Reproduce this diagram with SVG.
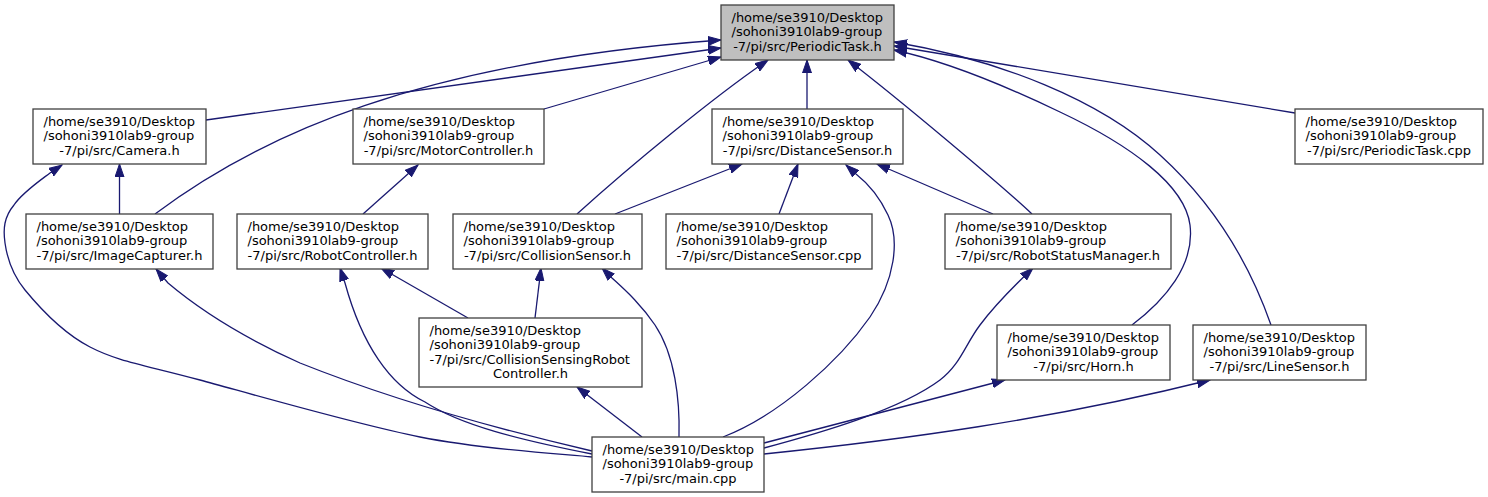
<svg xmlns="http://www.w3.org/2000/svg" width="1488" height="497" viewBox="0 0 1488 497">
<style>
.n rect{fill:#ffffff;stroke:#404040;stroke-width:1.3}
.root rect{fill:#bfbfbf}
text{font-family:"DejaVu Sans","Liberation Sans",sans-serif;font-size:13px;fill:#000000}
.c{text-anchor:middle}
#edges path{fill:none;stroke:#191970;stroke-width:1.3;marker-end:url(#ah)}
</style>
<defs>
<marker id="ah" markerUnits="userSpaceOnUse" viewBox="0 0 14 10" refX="13" refY="5" markerWidth="14" markerHeight="10" orient="auto">
<path d="M0,0.5 L13,5 L0,9.5 z" fill="#191970" stroke="#191970" stroke-width="1"/>
</marker>
</defs>
<rect width="1488" height="497" fill="#ffffff"/>
<g id="edges">
<path d="M206,120 L721,48"/>
<path d="M155,214 C260,135 420,62 721,40"/>
<path d="M544,109 L721,57"/>
<path d="M577,214 C630,166 715,96 768,60"/>
<path d="M807,109 L807,60"/>
<path d="M1032,214 C1000,184 900,100 848,60"/>
<path d="M1132,325 C1165,300 1195,265 1190,225 C1185,185 1130,145 1060,112 C1010,88 950,62 894,50"/>
<path d="M1271,325 C1250,265 1215,205 1160,155 C1100,100 1000,60 894,42"/>
<path d="M1295,113 L894,46"/>
<path d="M119.5,214 L119.5,164"/>
<path d="M592,457 C563,454 485,450 420,437 C355,424 255,395 200,380 C145,365 119,362 90,347 C61,332 39,307 25,290 C11,273 7,257 5,243 C3,229 4,217 14,205 C22,193 38,182 50,173 L62,165"/>
<path d="M363,214 L418,165"/>
<path d="M615,214 L742,164"/>
<path d="M779,214 L798,164"/>
<path d="M723,437 C780,415 840,360 870,317 C895,280 900,240 888,215 C880,198 870,185 856,174 L846,165"/>
<path d="M993,214 L877,164"/>
<path d="M535,318 L541,268"/>
<path d="M679,437 C680,400 675,355 655,325 C640,303 625,290 612,278 L602,268"/>
<path d="M592,451 C480,425 380,395 300,363 C240,336 200,310 168,283 L156,269"/>
<path d="M592,454 C520,440 460,425 425,402 C390,385 362,345 345,283 L340,268"/>
<path d="M468,318 L381,268"/>
<path d="M642,437 L577,387"/>
<path d="M764,448 C820,433 900,410 940,380 C960,365 965,345 980,325 C995,305 1015,285 1033,268"/>
<path d="M764,443 L1005,380"/>
<path d="M764,454 C900,440 1050,420 1210,380"/>
</g>
<g id="node-periodictask-h" class="n root">
<rect x="721" y="5" width="173" height="55"/>
<text x="731.5" y="21.5">/home/se3910/Desktop</text>
<text x="731.5" y="36">/sohoni3910lab9-group</text>
<text class="c" x="807.5" y="50.5">-7/pi/src/PeriodicTask.h</text>
</g>
<g id="node-camera-h" class="n">
<rect x="33" y="109" width="173" height="55"/>
<text x="43.5" y="125.5">/home/se3910/Desktop</text>
<text x="43.5" y="140">/sohoni3910lab9-group</text>
<text class="c" x="119.5" y="154.5">-7/pi/src/Camera.h</text>
</g>
<g id="node-motorcontroller-h" class="n">
<rect x="353" y="109" width="191" height="55"/>
<text x="363.5" y="125.5">/home/se3910/Desktop</text>
<text x="363.5" y="140">/sohoni3910lab9-group</text>
<text class="c" x="448.5" y="154.5">-7/pi/src/MotorController.h</text>
</g>
<g id="node-distancesensor-h" class="n">
<rect x="712" y="109" width="191" height="55"/>
<text x="722.5" y="125.5">/home/se3910/Desktop</text>
<text x="722.5" y="140">/sohoni3910lab9-group</text>
<text class="c" x="807.5" y="154.5">-7/pi/src/DistanceSensor.h</text>
</g>
<g id="node-periodictask-cpp" class="n">
<rect x="1295" y="109" width="188" height="55"/>
<text x="1305.5" y="125.5">/home/se3910/Desktop</text>
<text x="1305.5" y="140">/sohoni3910lab9-group</text>
<text class="c" x="1389" y="154.5">-7/pi/src/PeriodicTask.cpp</text>
</g>
<g id="node-imagecapturer-h" class="n">
<rect x="26" y="214" width="187" height="55"/>
<text x="36.5" y="230.5">/home/se3910/Desktop</text>
<text x="36.5" y="245">/sohoni3910lab9-group</text>
<text class="c" x="119.5" y="259.5">-7/pi/src/ImageCapturer.h</text>
</g>
<g id="node-robotcontroller-h" class="n">
<rect x="237" y="214" width="191" height="55"/>
<text x="247.5" y="230.5">/home/se3910/Desktop</text>
<text x="247.5" y="245">/sohoni3910lab9-group</text>
<text class="c" x="332.5" y="259.5">-7/pi/src/RobotController.h</text>
</g>
<g id="node-collisionsensor-h" class="n">
<rect x="453" y="214" width="189" height="55"/>
<text x="463.5" y="230.5">/home/se3910/Desktop</text>
<text x="463.5" y="245">/sohoni3910lab9-group</text>
<text class="c" x="547.5" y="259.5">-7/pi/src/CollisionSensor.h</text>
</g>
<g id="node-distancesensor-cpp" class="n">
<rect x="666" y="214" width="206" height="55"/>
<text x="676.5" y="230.5">/home/se3910/Desktop</text>
<text x="676.5" y="245">/sohoni3910lab9-group</text>
<text class="c" x="769" y="259.5">-7/pi/src/DistanceSensor.cpp</text>
</g>
<g id="node-robotstatusmanager-h" class="n">
<rect x="945" y="214" width="226" height="55"/>
<text x="955.5" y="230.5">/home/se3910/Desktop</text>
<text x="955.5" y="245">/sohoni3910lab9-group</text>
<text class="c" x="1058" y="259.5">-7/pi/src/RobotStatusManager.h</text>
</g>
<g id="node-horn-h" class="n">
<rect x="997" y="325" width="173" height="55"/>
<text x="1007.5" y="341.5">/home/se3910/Desktop</text>
<text x="1007.5" y="356">/sohoni3910lab9-group</text>
<text class="c" x="1083.5" y="370.5">-7/pi/src/Horn.h</text>
</g>
<g id="node-linesensor-h" class="n">
<rect x="1193" y="325" width="173" height="55"/>
<text x="1203.5" y="341.5">/home/se3910/Desktop</text>
<text x="1203.5" y="356">/sohoni3910lab9-group</text>
<text class="c" x="1279.5" y="370.5">-7/pi/src/LineSensor.h</text>
</g>
<g id="node-collisionsensingrobotcontroller-h" class="n">
<rect x="419" y="318" width="223" height="69"/>
<text x="429.5" y="334.5">/home/se3910/Desktop</text>
<text x="429.5" y="349">/sohoni3910lab9-group</text>
<text x="429.5" y="363.5">-7/pi/src/CollisionSensingRobot</text>
<text class="c" x="530.5" y="378">Controller.h</text>
</g>
<g id="node-main-cpp" class="n">
<rect x="592" y="437" width="172" height="55"/>
<text x="602.5" y="453.5">/home/se3910/Desktop</text>
<text x="602.5" y="468">/sohoni3910lab9-group</text>
<text class="c" x="678" y="482.5">-7/pi/src/main.cpp</text>
</g>
</svg>
